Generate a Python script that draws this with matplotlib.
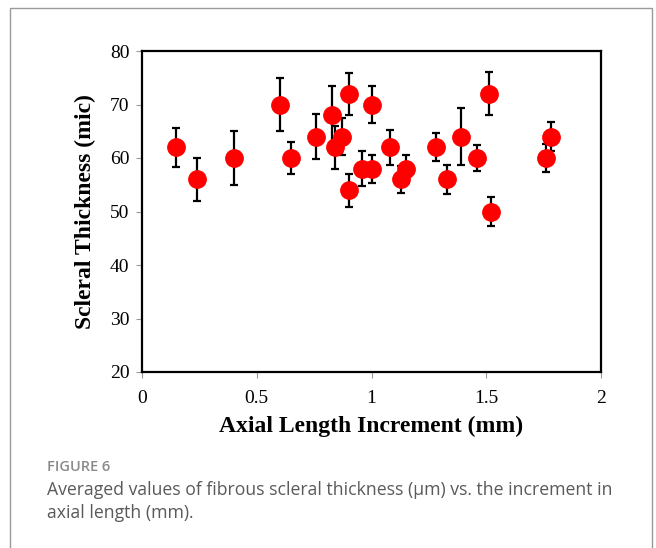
import matplotlib
matplotlib.use("Agg")
import matplotlib.pyplot as plt
from matplotlib.patches import Rectangle

# axial length increment (mm), scleral thickness (mic), error (+/-)
axial_inc = [0.15, 0.24, 0.40, 0.60, 0.65, 0.76, 0.83, 0.84, 0.87, 0.90,
             0.90, 0.96, 1.00, 1.00, 1.08, 1.13, 1.15, 1.28, 1.33, 1.39,
             1.46, 1.51, 1.52, 1.76, 1.78]
thickness = [62, 56, 60, 70, 60, 64, 68, 62, 64, 72,
             54, 58, 58, 70, 62, 56, 58, 62, 56, 64,
             60, 72, 50, 60, 64]
thick_err = [3.6, 4.0, 5.0, 4.9, 2.9, 4.2, 5.5, 4.0, 3.5, 3.9,
             3.1, 3.3, 2.6, 3.5, 3.3, 2.5, 2.6, 2.6, 2.7, 5.4,
             2.4, 4.0, 2.7, 2.7, 2.7]

x_ticks = [0, 0.5, 1, 1.5, 2]
x_tick_labels = ["0", "0.5", "1", "1.5", "2"]
y_ticks = [20, 30, 40, 50, 60, 70, 80]

caption_lines = ["Averaged values of fibrous scleral thickness (\u03bcm) vs. the increment in",
                 "axial length (mm)."]

fig = plt.figure(figsize=(6.56, 5.48), dpi=100)

# light grey frame around the figure panel
frame = Rectangle((10 / 656, -0.1), (652 - 10) / 656, 1 - 8 / 548 + 0.1,
                  transform=fig.transFigure, fill=False,
                  edgecolor="#9a9a9a", linewidth=1.0)
fig.patches.append(frame)

ax = fig.add_axes([142 / 656, 1 - 372 / 548, (601 - 142) / 656, (372 - 51) / 548])

ax.errorbar(axial_inc, thickness, yerr=thick_err, fmt="o",
            color="red", mec="red", markersize=12.5,
            ecolor="black", elinewidth=1.6, capsize=3.2, capthick=1.6,
            zorder=3)

ax.set_xlim(0, 2)
ax.set_ylim(20, 80)
ax.set_xticks(x_ticks)
ax.set_xticklabels(x_tick_labels)
ax.set_yticks(y_ticks)

serif = "Liberation Serif"
for lab in ax.get_xticklabels() + ax.get_yticklabels():
    lab.set_fontfamily(serif)
    lab.set_fontsize(14)

ax.tick_params(axis="both", direction="out", length=4, width=0.8,
               color="#999999")
ax.tick_params(axis="x", pad=9)
ax.tick_params(axis="y", pad=5)

for side in ["left", "bottom", "right", "top"]:
    ax.spines[side].set_linewidth(1.6)
    ax.spines[side].set_color("black")

ax.set_xlabel("Axial Length Increment (mm)", fontfamily=serif,
              fontweight="bold", fontsize=17, labelpad=6)
ax.set_ylabel("Scleral Thickness (mic)", fontfamily=serif,
              fontweight="bold", fontsize=17, labelpad=10)

fig.text(47 / 656, 1 - 467 / 548, "FIGURE 6", fontfamily="Open Sans",
         fontsize=10.5, fontweight="semibold", color="#8a8a8a", va="center")
fig.text(47 / 656, 1 - 490 / 548, caption_lines[0],
         fontfamily="Open Sans", fontsize=12.7, color="#5a5a5a", va="center")
fig.text(47 / 656, 1 - 513 / 548, caption_lines[1],
         fontfamily="Open Sans", fontsize=12.7, color="#5a5a5a", va="center")

fig.savefig("out.png", dpi=100)
